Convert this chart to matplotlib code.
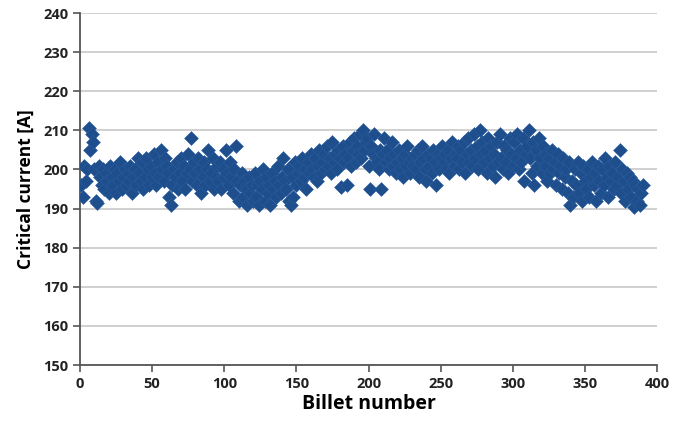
import numpy as np
import matplotlib.pyplot as plt

# critical current per billet (blocks of 10 billets)
current = [
    196, 193, 201, 197, 200, 210.5, 205, 209, 207, 200,
    192, 191.5, 201, 198, 196, 200, 195, 199, 197, 194,
    201, 198, 196, 200, 194, 199, 197, 202, 195, 198,
    200, 196, 199, 197, 201, 194, 198, 200, 196, 203,
    199, 197, 202, 195, 198, 203, 200, 196, 201, 198,
    204, 199, 196, 202, 198, 205, 200, 197, 203, 201,
    199, 193, 191, 196, 200, 198, 202, 195, 199, 203,
    197, 201, 195, 199, 204, 200, 208, 197, 202, 199,
    196, 203, 200, 194, 198, 202, 196, 200, 205, 197,
    199, 203, 195, 198, 201, 197, 202, 195, 200, 198,
    205, 199, 196, 202, 198, 194, 200, 206, 197, 192,
    196, 199, 193, 197, 195, 191, 198, 194, 196, 192,
    199, 193, 196, 191, 197, 195, 200, 192, 198, 194,
    196, 191, 199, 195, 197, 193, 201, 196, 194, 198,
    203, 197, 195, 200, 192, 191, 198, 193, 202, 196,
    199, 201, 197, 203, 198, 200, 195, 202, 199, 204,
    200, 198, 203, 197, 201, 205, 199, 202, 204, 200,
    206, 201, 203, 199, 207, 202, 204, 200, 205, 203,
    195.5, 206, 202, 204, 196, 203, 207, 201, 205, 208,
    202, 206, 204, 209, 203, 210, 205, 207, 208, 201,
    195, 206, 204, 209, 203, 202, 200, 205, 195, 204,
    208, 202, 205, 200, 203, 207, 201, 204, 199, 202,
    205, 200, 203, 198, 204, 201, 206, 202, 199, 203,
    201, 204, 200, 205, 198, 202, 206, 203, 200, 197,
    204, 201, 203, 199, 205, 202, 196, 204, 200, 203,
    206, 202, 204, 200, 205, 199, 203, 207, 201, 204,
    203, 206, 200, 205, 202, 207, 199, 204, 208, 202,
    205, 201, 209, 203, 206, 200, 210, 204, 207, 202,
    205, 199, 208, 203, 206, 201, 204, 198, 207, 202,
    209, 203, 200, 206, 202, 205, 199, 208, 204, 201,
    207, 203, 209, 200, 205, 202, 208, 197, 204, 206,
    210, 203, 199, 207, 196, 205, 201, 208, 203, 199,
    206, 201, 204, 197, 203, 199, 205, 200, 202, 196,
    204, 199, 201, 195, 203, 198, 200, 194, 202, 191,
    197, 193, 200, 196, 202, 194, 199, 192, 201, 197,
    195, 200, 193, 198, 202, 196, 199, 192, 201, 197,
    194, 200, 196, 203, 198, 193, 201, 197, 199, 195,
    202, 196, 198, 205, 194, 200, 197, 192, 199, 195,
    198, 193, 197, 190.5, 196, 192, 195, 191, 194, 196,
]
billet = np.arange(1, len(current) + 1)

x_ticks = [0, 50, 100, 150, 200, 250, 300, 350, 400]
y_ticks = [150, 160, 170, 180, 190, 200, 210, 220, 230, 240]

plt.rcParams['font.family'] = ['Open Sans', 'DejaVu Sans']

fig = plt.figure(figsize=(6.87, 4.21), dpi=100)
ax = fig.add_axes([0.1164, 0.133, 0.84, 0.836])

ax.scatter(billet, current, marker='D', s=50, color='#1f4e8c',
           edgecolors='#2a5da0', linewidths=0.4, zorder=3)

ax.set_xlim(0, 400)
ax.set_ylim(150, 240)
ax.set_xticks(x_ticks)
ax.set_yticks(y_ticks)
ax.grid(axis='y', color='#c8c8c8', linewidth=1.2, zorder=0)
ax.set_axisbelow(True)

for s in ['top', 'right']:
    ax.spines[s].set_visible(False)
for s in ['left', 'bottom']:
    ax.spines[s].set_color('#555555')
    ax.spines[s].set_linewidth(1.3)

ax.tick_params(axis='both', direction='out', length=5, width=1.2,
               color='#555555', labelsize=10.5, labelcolor='#222222')
for lab in ax.get_xticklabels() + ax.get_yticklabels():
    lab.set_fontweight('bold')

ax.set_xlabel('Billet number', fontsize=14, fontweight='bold', labelpad=2)
ax.set_ylabel('Critical current [A]', fontsize=12.5, fontweight='bold', labelpad=6)

fig.savefig('out.png', dpi=100)
